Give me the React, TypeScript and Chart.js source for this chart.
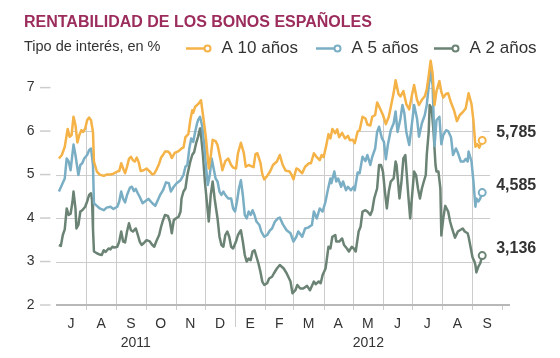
import React, { useEffect, useRef } from "react";
import { Chart, registerables } from "chart.js";

Chart.register(...registerables);

const TITLE = "RENTABILIDAD DE LOS BONOS ESPAÑOLES";
const SUBTITLE = "Tipo de interés, en %";
const SERIES_NAMES = ["A 10 años", "A 5 años", "A 2 años"];
const END_LABELS = ["5,785", "4,585", "3,136"];
const COLORS = ["#f4b247", "#79aec4", "#6b8374"];

// x values: days since 1 July 2011
const DAYS_10Y = [3, 6, 9, 12, 14, 16, 18, 20, 22, 24, 26, 28, 30, 32, 34, 36, 38, 39, 42, 45, 49, 52, 56, 59, 63, 65, 67, 69, 71, 73, 75, 77, 79, 81, 83, 85, 87, 90, 93, 96, 99, 101, 103, 106, 108, 110, 112, 115, 117, 119, 122, 126, 129, 131, 133, 136, 138, 140, 141, 143, 146, 149, 151, 154, 157, 159, 161, 164, 166, 169, 171, 174, 177, 180, 182, 185, 187, 190, 193, 195, 198, 200, 203, 205, 207, 210, 212, 214, 217, 220, 223, 227, 230, 233, 236, 240, 242, 244, 247, 249, 253, 256, 260, 262, 265, 268, 271, 273, 275, 278, 280, 282, 284, 287, 289, 291, 294, 297, 300, 302, 305, 307, 310, 312, 315, 318, 320, 323, 325, 328, 330, 333, 336, 339, 342, 344, 347, 349, 352, 354, 357, 360, 363, 366, 368, 371, 373, 376, 379, 381, 383, 385, 387, 389, 391, 394, 396, 398, 401, 403, 406, 409, 412, 415, 419, 421, 424, 427, 429, 431, 433, 435, 438];
const YIELD_10Y = [5.37, 5.45, 5.64, 6.05, 5.87, 5.91, 6.33, 6.14, 5.74, 5.91, 6.02, 5.98, 6.06, 6.25, 6.31, 6.25, 5.98, 5.3, 5.07, 5.0, 4.97, 5.0, 5.0, 5.02, 5.07, 5.08, 5.26, 5.14, 5.03, 5.18, 5.36, 5.41, 5.33, 5.3, 5.39, 5.28, 5.08, 5.1, 5.14, 5.08, 5.0, 5.02, 5.1, 5.25, 5.39, 5.45, 5.53, 5.53, 5.49, 5.38, 5.5, 5.54, 5.6, 5.62, 5.86, 5.93, 6.25, 6.48, 6.42, 6.56, 6.62, 6.71, 6.38, 5.86, 5.14, 5.42, 5.8, 5.77, 5.68, 5.35, 5.1, 5.31, 5.37, 5.22, 5.16, 5.14, 5.49, 5.73, 5.5, 5.18, 5.22, 5.2, 5.17, 5.47, 5.49, 5.28, 5.01, 4.89, 4.97, 5.07, 5.22, 5.3, 5.45, 5.22, 5.09, 5.07, 5.0, 4.89, 5.14, 5.12, 5.03, 5.18, 5.26, 5.26, 5.49, 5.4, 5.33, 5.45, 5.4, 5.7, 5.93, 5.83, 6.05, 5.95, 6.04, 5.86, 5.96, 5.83, 5.89, 5.79, 5.8, 5.72, 5.99, 6.02, 6.33, 6.29, 6.15, 6.13, 6.33, 6.37, 6.66, 6.52, 6.37, 6.16, 6.33, 6.55, 6.88, 7.17, 6.85, 6.8, 6.92, 6.62, 6.5, 6.85, 7.06, 6.72, 6.6, 6.72, 6.8, 6.96, 7.27, 7.62, 7.33, 6.6, 6.92, 7.15, 6.9, 6.77, 6.86, 6.87, 6.65, 6.48, 6.23, 6.37, 6.46, 6.52, 6.87, 6.62, 6.24, 5.64, 5.7, 5.62, 5.785];

const DAYS_5Y = [3, 6, 9, 11, 13, 15, 18, 20, 23, 25, 27, 29, 32, 34, 36, 38, 39, 42, 45, 49, 52, 56, 59, 63, 65, 67, 69, 71, 73, 76, 78, 80, 82, 84, 86, 89, 92, 95, 99, 102, 104, 107, 110, 113, 116, 118, 121, 124, 128, 131, 133, 135, 137, 139, 141, 143, 145, 146, 148, 150, 152, 154, 156, 158, 160, 162, 164, 166, 168, 170, 172, 174, 177, 180, 182, 184, 186, 188, 190, 192, 194, 196, 198, 200, 202, 204, 206, 209, 211, 214, 217, 220, 222, 225, 228, 230, 233, 237, 241, 244, 247, 249, 253, 256, 259, 263, 265, 268, 271, 274, 277, 279, 282, 283, 286, 288, 290, 293, 295, 298, 300, 303, 306, 307, 310, 312, 315, 318, 320, 323, 325, 328, 330, 332, 335, 337, 339, 341, 344, 347, 349, 351, 354, 356, 358, 360, 363, 366, 368, 371, 373, 376, 379, 381, 383, 385, 387, 389, 391, 394, 396, 398, 401, 403, 406, 408, 411, 413, 416, 419, 421, 423, 424, 427, 429, 431, 432, 434, 436, 438];
const YIELD_5Y = [4.61, 4.76, 4.91, 5.37, 5.3, 5.1, 5.69, 5.45, 4.99, 5.22, 5.26, 5.37, 5.45, 5.56, 5.6, 5.22, 4.34, 4.28, 4.22, 4.18, 4.24, 4.26, 4.21, 4.26, 4.38, 4.61, 4.44, 4.36, 4.53, 4.7, 4.72, 4.62, 4.67, 4.57, 4.49, 4.34, 4.39, 4.44, 4.34, 4.28, 4.38, 4.53, 4.64, 4.82, 4.8, 4.61, 4.72, 4.8, 4.87, 4.99, 5.18, 5.22, 5.6, 5.83, 5.75, 5.98, 6.18, 6.25, 6.33, 6.14, 5.75, 5.22, 4.76, 4.99, 5.37, 5.14, 4.91, 4.84, 4.61, 4.53, 4.61, 4.53, 4.45, 4.45, 4.22, 4.15, 4.38, 4.68, 4.87, 4.53, 4.07, 3.99, 4.15, 4.07, 4.18, 4.07, 3.92, 3.84, 3.69, 3.57, 3.61, 3.72, 3.76, 3.92, 3.99, 4.01, 3.86, 3.72, 3.65, 3.46, 3.57, 3.69, 3.57, 3.76, 3.78, 3.84, 4.15, 3.99, 4.22, 4.15, 4.38, 4.61, 4.91, 4.8, 5.07, 4.84, 4.91, 4.72, 4.84, 4.64, 4.72, 4.64, 4.72, 4.64, 5.05, 5.03, 5.41, 5.31, 5.45, 5.22, 5.41, 5.6, 5.98, 6.1, 5.83, 5.75, 5.35, 5.68, 6.02, 6.18, 6.45, 5.98, 6.29, 6.6, 6.41, 5.98, 5.68, 6.21, 6.6, 6.29, 5.87, 6.18, 6.37, 6.6, 7.02, 7.4, 7.06, 5.66, 6.25, 6.33, 5.7, 5.91, 6.02, 6.0, 5.85, 5.45, 5.6, 5.5, 5.3, 5.3, 5.36, 5.3, 5.53, 5.3, 4.84, 4.26, 4.45, 4.38, 4.45, 4.585];

const DAYS_2Y = [3, 5, 7, 9, 11, 13, 15, 17, 18, 20, 21, 23, 25, 27, 30, 32, 34, 36, 37, 38, 39, 42, 45, 47, 49, 51, 54, 56, 58, 60, 63, 65, 67, 69, 71, 73, 75, 77, 79, 82, 84, 86, 88, 90, 93, 96, 99, 101, 103, 106, 108, 110, 112, 115, 117, 119, 121, 123, 126, 128, 129, 131, 133, 135, 138, 140, 142, 144, 146, 148, 149, 151, 153, 155, 157, 159, 161, 163, 166, 168, 170, 172, 174, 176, 178, 180, 182, 185, 187, 190, 192, 194, 196, 198, 200, 202, 204, 206, 208, 210, 212, 214, 217, 219, 222, 224, 227, 230, 234, 237, 241, 243, 246, 248, 251, 254, 258, 261, 265, 267, 270, 272, 274, 277, 278, 280, 282, 284, 287, 288, 291, 294, 296, 299, 301, 304, 306, 308, 311, 313, 315, 318, 320, 323, 325, 327, 330, 332, 334, 336, 338, 340, 342, 344, 347, 349, 350, 353, 355, 357, 359, 360, 362, 364, 366, 368, 370, 372, 374, 376, 378, 380, 381, 383, 384, 386, 388, 390, 391, 393, 395, 396, 398, 400, 403, 405, 407, 410, 413, 415, 418, 420, 423, 424, 427, 428, 430, 431, 432, 434, 435, 436, 438];
const YIELD_2Y = [3.38, 3.36, 3.61, 3.74, 4.22, 4.07, 4.1, 4.38, 4.61, 4.22, 3.76, 3.84, 4.15, 4.18, 4.26, 4.38, 4.53, 4.57, 4.42, 3.75, 3.23, 3.19, 3.16, 3.15, 3.26, 3.22, 3.3, 3.28, 3.34, 3.32, 3.34, 3.46, 3.69, 3.46, 3.44, 3.69, 3.88, 3.72, 3.69, 3.76, 3.62, 3.46, 3.38, 3.42, 3.49, 3.47, 3.38, 3.34, 3.46, 3.61, 3.8, 3.95, 4.07, 4.05, 3.92, 3.65, 3.95, 3.99, 4.03, 4.15, 4.45, 4.61, 4.68, 4.99, 5.3, 5.45, 5.52, 5.72, 5.87, 6.06, 5.91, 5.45, 4.84, 4.38, 3.92, 4.53, 4.84, 4.45, 3.99, 3.57, 3.38, 3.34, 3.61, 3.69, 3.57, 3.34, 3.3, 3.46, 3.61, 3.72, 3.46, 3.15, 3.0, 3.07, 3.03, 3.23, 3.26, 3.11, 2.96, 2.77, 2.54, 2.46, 2.5, 2.61, 2.65, 2.73, 2.84, 2.92, 2.84, 2.73, 2.54, 2.27, 2.34, 2.46, 2.38, 2.38, 2.44, 2.34, 2.54, 2.48, 2.54, 2.5, 2.69, 2.84, 3.0, 3.34, 3.3, 3.57, 3.61, 3.46, 3.46, 3.53, 3.38, 3.3, 3.23, 3.34, 3.3, 3.23, 3.69, 3.8, 4.15, 4.18, 4.15, 4.07, 4.18, 4.45, 4.68, 5.22, 5.22, 5.07, 4.61, 4.22, 4.61, 4.84, 4.91, 5.3, 5.22, 4.45, 4.84, 5.37, 5.45, 5.14, 4.53, 3.99, 4.53, 5.07, 4.99, 4.68, 4.45, 4.68, 4.84, 4.99, 5.45, 5.98, 6.6, 6.52, 5.98, 5.22, 5.07, 5.07, 4.68, 3.6, 4.0, 4.28, 4.15, 3.92, 3.76, 3.55, 3.69, 3.72, 3.76, 3.69, 3.65, 3.57, 3.22, 3.1, 3.0, 2.92, 2.75, 2.88, 2.92, 2.96, 3.136];

// month boundaries, days since 1 July 2011 (1 Jul 2011 ... 1 Oct 2012)
const MONTH_STARTS = [0, 31, 62, 92, 123, 153, 184, 215, 244, 275, 305, 336, 366, 397, 428, 458];
const MONTH_LABELS = ["J", "A", "S", "O", "N", "D", "E", "F", "M", "A", "M", "J", "J", "A", "S"];
const YEAR_LABELS = ["2011", "2012"];
const YEAR_LABEL_DAYS = [82, 321];
const YEAR_BREAK_DAY = 184;
const Y_TICKS = [2, 3, 4, 5, 6, 7];

const FONT = '"Liberation Sans", Arial, Helvetica, sans-serif';
const TEXT = "#333333";
const GRID = "#cccccc";

const decorPlugin = {
  id: "decor",
  beforeDatasetsDraw(chart: any) {
    const { ctx, chartArea, scales } = chart;
    const { left, right, top, bottom } = chartArea;
    const xs = scales.x;
    const ys = scales.y;
    const pts = chart.getDatasetMeta(0).data;
    const first = pts[0];
    const last = pts[pts.length - 1];
    const lastVal = YIELD_10Y[YIELD_10Y.length - 1];
    const capY = ys.getPixelForValue(Math.ceil(lastVal)) - 1;

    // grid, only beneath the 10-year line
    ctx.save();
    ctx.beginPath();
    ctx.moveTo(left - 1, bottom + 1);
    ctx.lineTo(left - 1, first.y);
    for (const p of pts) ctx.lineTo(p.x, p.y);
    ctx.lineTo(last.x, Math.min(capY, last.y));
    ctx.lineTo(right + 1, Math.min(capY, last.y));
    ctx.lineTo(right + 1, bottom + 1);
    ctx.closePath();
    ctx.clip();
    ctx.strokeStyle = GRID;
    ctx.lineWidth = 1;
    for (const t of Y_TICKS) {
      if (t === Y_TICKS[0]) continue;
      const yy = Math.round(ys.getPixelForValue(t)) + 0.5;
      ctx.beginPath();
      ctx.moveTo(left, yy);
      ctx.lineTo(right, yy);
      ctx.stroke();
    }
    for (const d of MONTH_STARTS) {
      if (d <= xs.min || d > xs.max) continue;
      const xx = Math.round(xs.getPixelForValue(d)) + 0.5;
      ctx.beginPath();
      ctx.moveTo(xx, top);
      ctx.lineTo(xx, bottom);
      ctx.stroke();
    }
    ctx.restore();

    ctx.save();
    // ticks below the axis
    ctx.strokeStyle = GRID;
    ctx.lineWidth = 1;
    for (const d of MONTH_STARTS) {
      if (d <= xs.min) continue;
      const xx = Math.round(xs.getPixelForValue(d)) + 0.5;
      ctx.beginPath();
      ctx.moveTo(xx, bottom);
      ctx.lineTo(xx, bottom + (d === YEAR_BREAK_DAY ? 22 : 5));
      ctx.stroke();
    }
    // baseline
    ctx.strokeStyle = "#b8b8b8";
    ctx.lineWidth = 2;
    ctx.beginPath();
    ctx.moveTo(left, bottom);
    ctx.lineTo(right + 20, bottom);
    ctx.stroke();
    // y ticks
    ctx.strokeStyle = GRID;
    ctx.lineWidth = 1.5;
    ctx.fillStyle = TEXT;
    ctx.font = `14px ${FONT}`;
    ctx.textAlign = "right";
    ctx.textBaseline = "middle";
    for (const t of Y_TICKS) {
      const yy = ys.getPixelForValue(t);
      ctx.beginPath();
      ctx.moveTo(left - 16, yy);
      ctx.lineTo(left - 5.5, yy);
      ctx.stroke();
      ctx.fillText(String(t), left - 21.5, yy);
    }
    // month labels
    ctx.textAlign = "center";
    ctx.textBaseline = "alphabetic";
    MONTH_LABELS.forEach((m, i) => {
      const mid = (MONTH_STARTS[i] + MONTH_STARTS[i + 1]) / 2;
      ctx.fillText(m, xs.getPixelForValue(mid), bottom + 22.5);
    });
    YEAR_LABELS.forEach((yl, i) => {
      ctx.fillText(yl, xs.getPixelForValue(YEAR_LABEL_DAYS[i]), bottom + 41.5);
    });

    // title & subtitle
    ctx.textAlign = "left";
    ctx.fillStyle = "#9b2c5c";
    ctx.font = `bold 16px ${FONT}`;
    ctx.fillText(TITLE, 24, 27);
    ctx.fillStyle = TEXT;
    ctx.font = `14.5px ${FONT}`;
    ctx.fillText(SUBTITLE, 24, 51);

    // legend
    const legendX = [186, 316, 434];
    ctx.font = `17px ${FONT}`;
    SERIES_NAMES.forEach((name, i) => {
      const lx = legendX[i];
      const ly = 48.5;
      ctx.strokeStyle = COLORS[i];
      ctx.lineWidth = 2.5;
      ctx.beginPath();
      ctx.moveTo(lx, ly);
      ctx.lineTo(lx + 18, ly);
      ctx.stroke();
      ctx.lineWidth = 2;
      ctx.fillStyle = "#ffffff";
      ctx.beginPath();
      ctx.arc(lx + 21.5, ly, 3, 0, Math.PI * 2);
      ctx.fill();
      ctx.stroke();
      ctx.fillStyle = TEXT;
      ctx.fillText(name, lx + 35.5, 52.5);
    });
    ctx.restore();
  },
  afterDatasetsDraw(chart: any) {
    const { ctx } = chart;
    ctx.save();
    ctx.fillStyle = TEXT;
    ctx.font = `bold 16px ${FONT}`;
    ctx.textAlign = "left";
    ctx.textBaseline = "alphabetic";
    END_LABELS.forEach((lab, i) => {
      const pts = chart.getDatasetMeta(i).data;
      const p = pts[pts.length - 1];
      ctx.fillText(lab, p.x + 14, p.y - 3);
    });
    ctx.restore();
  },
};

function makeDataset(i: number, days: number[], vals: number[]) {
  const n = vals.length;
  return {
    label: SERIES_NAMES[i],
    data: days.map((d, k) => ({ x: d, y: vals[k] })),
    borderColor: COLORS[i],
    backgroundColor: COLORS[i],
    borderWidth: 2.5,
    borderJoinStyle: "round" as const,
    tension: 0,
    pointRadius: (c: any) => (c.dataIndex === n - 1 ? 3.5 : 0),
    pointHoverRadius: 0,
    pointBackgroundColor: "#ffffff",
    pointBorderColor: COLORS[i],
    pointBorderWidth: 2,
    clip: false as const,
  };
}

export default function App() {
  const ref = useRef<HTMLCanvasElement | null>(null);
  useEffect(() => {
    document.body.style.margin = "0";
    const canvas = ref.current;
    if (!canvas) return;
    const chart = new Chart(canvas, {
      type: "line",
      data: {
        datasets: [
          makeDataset(0, DAYS_10Y, YIELD_10Y),
          makeDataset(1, DAYS_5Y, YIELD_5Y),
          makeDataset(2, DAYS_2Y, YIELD_2Y),
        ] as any,
      },
      options: {
        animation: false,
        responsive: false,
        devicePixelRatio: 1,
        layout: { padding: { left: 56, right: 70, top: 55, bottom: 53 } },
        scales: {
          x: { type: "linear", min: 0, max: 446, display: false },
          y: { type: "linear", min: 2, max: 7.75, display: false },
        },
        plugins: {
          legend: { display: false },
          tooltip: { enabled: false },
          title: { display: false },
        },
        events: [],
      },
      plugins: [decorPlugin],
    });
    return () => chart.destroy();
  }, []);
  return (
    <div style={{ width: 560, height: 358, background: "#ffffff" }}>
      <canvas ref={ref} width={560} height={358} />
    </div>
  );
}
